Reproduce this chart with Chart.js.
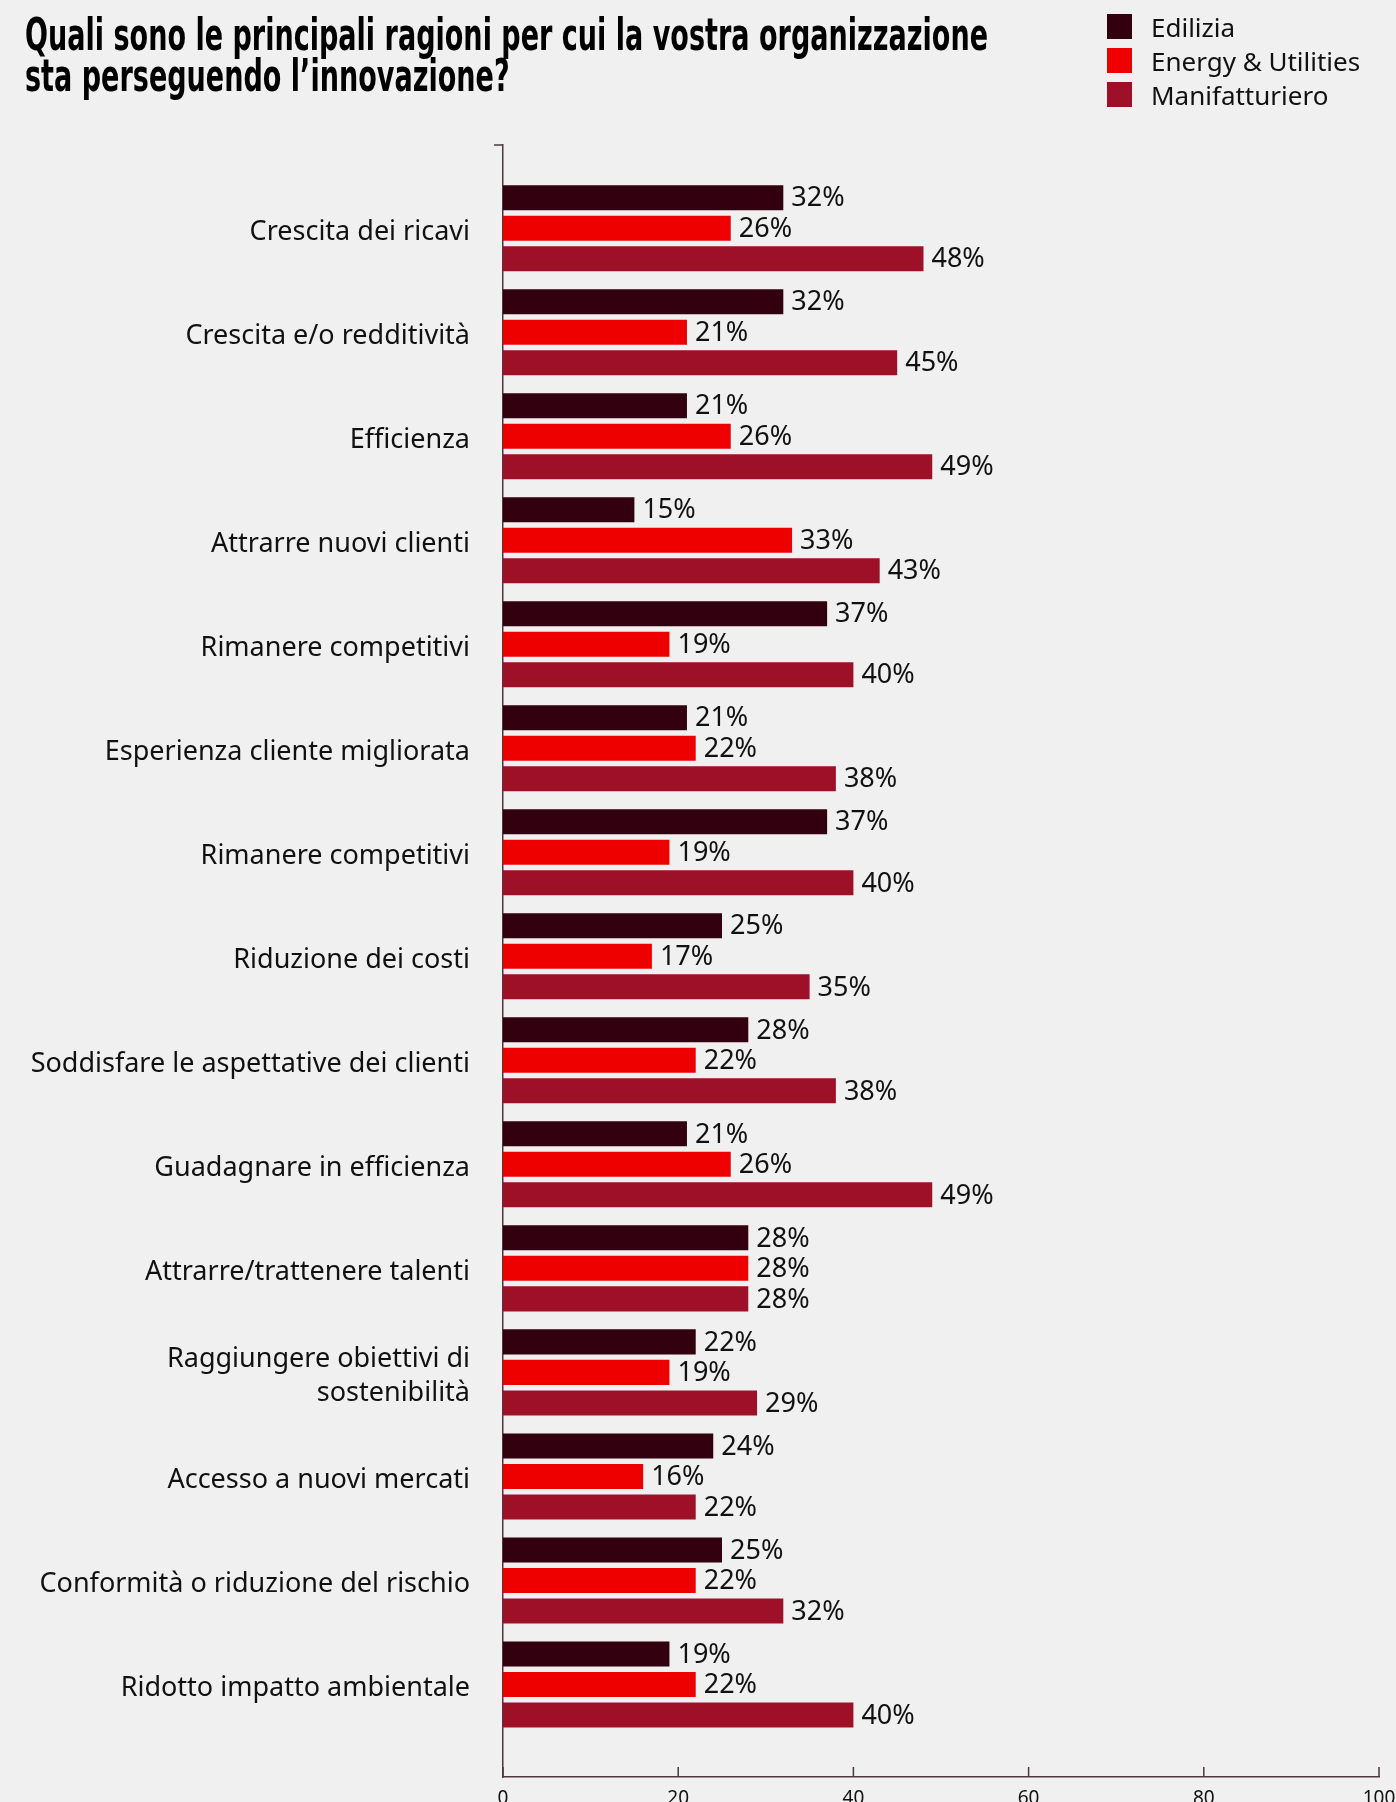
<!DOCTYPE html>
<html lang="it">
<head>
<meta charset="utf-8">
<title>Ragioni per l'innovazione</title>
<script src="https://cdn.jsdelivr.net/npm/chart.js@4.4.1/dist/chart.umd.min.js"></script>
<style>
  html, body { margin: 0; padding: 0; background: #f0f0f0; overflow: hidden; }
  #wrap { position: relative; width: 1396px; height: 1802px; }
  #chart { position: absolute; left: 0; top: 0; }
  #title {
    position: absolute; left: 25px; top: 14px; margin: 0;
    font-family: "Liberation Sans Narrow", "DejaVu Sans Condensed", sans-serif;
    font-weight: bold; font-size: 45px; line-height: 41px; color: #000;
    transform-origin: 0 0; white-space: nowrap;
  }
  #title span { display: inline-block; }
  #legend {
    position: absolute; left: 1107px; top: 14px;
    font-family: "Noto Sans", sans-serif; font-size: 26px; color: #111;
  }
  .item { display: flex; align-items: center; height: 25px; margin-bottom: 9px; white-space: nowrap; }
  .sw { width: 25px; height: 25px; margin-right: 19px; }
</style>
</head>
<body>
<div id="wrap">
  <canvas id="chart" width="1396" height="1802"></canvas>
  <h1 id="title"><span id="t1">Quali sono le principali ragioni per cui la vostra organizzazione</span><br><span>sta perseguendo l’innovazione?</span></h1>
  <div id="legend"></div>
</div>
<script>
// categories, top to bottom
const categories = [
  'Crescita dei ricavi',
  'Crescita e/o redditività',
  'Efficienza',
  'Attrarre nuovi clienti',
  'Rimanere competitivi',
  'Esperienza cliente migliorata',
  'Rimanere competitivi',
  'Riduzione dei costi',
  'Soddisfare le aspettative dei clienti',
  'Guadagnare in efficienza',
  'Attrarre/trattenere talenti',
  ['Raggiungere obiettivi di', 'sostenibilità'],
  'Accesso a nuovi mercati',
  'Conformità o riduzione del rischio',
  'Ridotto impatto ambientale'
];

// percentages per sector
const edilizia = [32, 32, 21, 15, 37, 21, 37, 25, 28, 21, 28, 22, 24, 25, 19];
const energy = [26, 21, 26, 33, 19, 22, 19, 17, 22, 26, 28, 19, 16, 22, 22];
const manifatturiero = [48, 45, 49, 43, 40, 38, 40, 35, 38, 49, 28, 29, 22, 32, 40];

const xTicks = [0, 20, 40, 60, 80, 100];

const axisColor = '#4d3640';

function points(values) {
  return values.map((v, i) => ({ x: v, y: i }));
}

// value labels + the small inward tick marks
const extras = {
  id: 'extras',
  afterDatasetsDraw(chart) {
    const ctx = chart.ctx;
    const area = chart.chartArea;
    ctx.save();
    ctx.font = '27px "Noto Sans"';
    ctx.fillStyle = '#111';
    ctx.textBaseline = 'middle';
    chart.data.datasets.forEach((ds, i) => {
      chart.getDatasetMeta(i).data.forEach((bar, j) => {
        ctx.fillText(ds.data[j].x + '%', bar.x + 8, bar.y + 1);
      });
    });
    ctx.strokeStyle = axisColor;
    ctx.lineWidth = 1.5;
    const xs = chart.scales.x;
    xTicks.forEach(t => {
      const px = xs.getPixelForValue(t);
      ctx.beginPath();
      ctx.moveTo(px, area.bottom);
      ctx.lineTo(px, area.bottom - 10);
      ctx.stroke();
    });
    ctx.beginPath();
    ctx.moveTo(area.left - 9, area.top);
    ctx.lineTo(area.left, area.top);
    ctx.stroke();
    ctx.restore();
  }
};

Chart.defaults.font.family = '"Noto Sans", sans-serif';
Chart.defaults.color = '#111';

const chart = new Chart(document.getElementById('chart'), {
  type: 'bar',
  data: {
    datasets: [
      { label: 'Edilizia', data: points(edilizia), backgroundColor: '#33000f' },
      { label: 'Energy & Utilities', data: points(energy), backgroundColor: '#ee0000' },
      { label: 'Manifatturiero', data: points(manifatturiero), backgroundColor: '#9e1028' }
    ]
  },
  options: {
    indexAxis: 'y',
    responsive: false,
    animation: false,
    categoryPercentage: 0.88,
    barPercentage: 0.82,
    layout: { padding: { top: 145, right: 17, left: 0, bottom: 0 } },
    plugins: {
      legend: { display: false },
      tooltip: { enabled: false }
    },
    scales: {
      y: {
        type: 'linear',
        reverse: true,
        offset: false,
        min: -0.8,
        max: 14.89,
        grid: { display: false, drawTicks: false, offset: false },
        border: { display: true, color: axisColor, width: 1.5 },
        ticks: {
          stepSize: 1,
          autoSkip: false,
          includeBounds: false,
          padding: 33,
          labelOffset: 4,
          font: { size: 27, lineHeight: 1.26 },
          color: '#111',
          callback: v => Number.isInteger(v) && categories[v] !== undefined ? categories[v] : ''
        },
        afterFit: s => { s.width = 503; s.paddingTop = 0; s.paddingBottom = 0; }
      },
      x: {
        type: 'linear',
        min: 0,
        max: 100,
        grid: { display: false, drawTicks: false },
        border: { display: true, color: axisColor, width: 1.5 },
        ticks: {
          stepSize: 20,
          padding: 12,
          font: { size: 19, lineHeight: 1 },
          color: '#111'
        },
        afterFit: s => { s.height = 25; s.paddingLeft = 0; s.paddingRight = 0; }
      }
    }
  },
  plugins: [extras]
});

// legend built from the chart's datasets
const legend = document.getElementById('legend');
chart.data.datasets.forEach(ds => {
  const item = document.createElement('div');
  item.className = 'item';
  const sw = document.createElement('span');
  sw.className = 'sw';
  sw.style.background = ds.backgroundColor;
  const txt = document.createElement('span');
  txt.textContent = ds.label;
  item.appendChild(sw);
  item.appendChild(txt);
  legend.appendChild(item);
});

// squeeze the title to the width of the original condensed headline
function fitTitle() {
  const title = document.getElementById('title');
  title.style.transform = 'none';
  const raw = document.getElementById('t1').getBoundingClientRect().width;
  title.style.transform = 'scaleX(' + (963 / raw) + ')';
}
fitTitle();
window.addEventListener('load', fitTitle);
</script>
</body>
</html>
